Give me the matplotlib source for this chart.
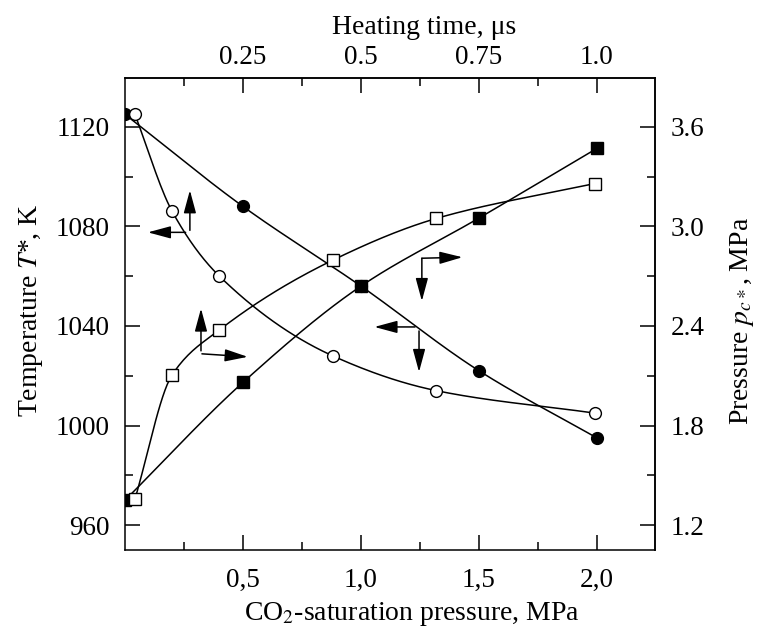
import numpy as np
import matplotlib
matplotlib.use("Agg")
import matplotlib.pyplot as plt
from matplotlib.ticker import FixedLocator

plt.rcParams["font.family"] = ["Liberation Serif", "DejaVu Serif"]
plt.rcParams["mathtext.fontset"] = "stix"

# data: T* and p_c* against CO2-saturation pressure (MPa) and heating time (us)
co2 = [0.0, 0.5, 1.0, 1.5, 2.0]
temp_co2 = [1125, 1088, 1056, 1022, 995]          # filled circles, left axis
pres_co2 = [1.35, 2.06, 2.64, 3.05, 3.47]         # filled squares, right axis

time = [0.021, 0.1, 0.2, 0.44, 0.66, 0.995]
temp_time = [1125, 1086, 1060, 1028, 1014, 1005]  # open circles, left axis
pres_time = [1.356, 2.106, 2.376, 2.796, 3.048, 3.258]  # open squares, right axis

bottom_ticks = [0.5, 1.0, 1.5, 2.0]
bottom_labels = ["0,5", "1,0", "1,5", "2,0"]
top_ticks = [0.25, 0.5, 0.75, 1.0]
top_labels = ["0.25", "0.5", "0.75", "1.0"]
left_ticks = [960, 1000, 1040, 1080, 1120]
right_ticks = [1.2, 1.8, 2.4, 3.0, 3.6]
right_labels = ["1.2", "1.8", "2.4", "3.0", "3.6"]


def t2x(t):
    return np.asarray(t, float) * 2.0


def x2t(x):
    return np.asarray(x, float) / 2.0


def p2T(p):
    return 960 + (np.asarray(p, float) - 1.2) / 0.015


def T2p(T):
    return 1.2 + (np.asarray(T, float) - 960) * 0.015


def smooth(x, y, n=200):
    # monotone cubic (Fritsch-Carlson) curve through the points
    x, y = np.asarray(x, float), np.asarray(y, float)
    h = np.diff(x)
    d = np.diff(y) / h
    m = np.zeros_like(y)
    m[0], m[-1] = d[0], d[-1]
    for k in range(1, len(x) - 1):
        if d[k - 1] * d[k] > 0:
            w1 = 2 * h[k] + h[k - 1]
            w2 = h[k] + 2 * h[k - 1]
            m[k] = (w1 + w2) / (w1 / d[k - 1] + w2 / d[k])
    xs = np.linspace(x[0], x[-1], n)
    i = np.clip(np.searchsorted(x, xs) - 1, 0, len(h) - 1)
    s = (xs - x[i]) / h[i]
    ys = ((2 * s**3 - 3 * s**2 + 1) * y[i] + (s**3 - 2 * s**2 + s) * h[i] * m[i]
          + (-2 * s**3 + 3 * s**2) * y[i + 1] + (s**3 - s**2) * h[i] * m[i + 1])
    return xs, ys


fig = plt.figure(figsize=(7.57, 6.27), dpi=100)
ax = fig.add_axes([125 / 757, 1 - 550 / 627, 530 / 757, 472 / 627])
ax.set_xlim(0, 2.246)
ax.set_ylim(950, 1139.6)

lw = 1.1
# curves
ax.plot(*smooth(co2, temp_co2), "k-", lw=lw)
ax.plot(*smooth(co2, p2T(pres_co2)), "k-", lw=lw)
ax.plot(*smooth(t2x(time), temp_time), "k-", lw=lw)
ax.plot(*smooth(t2x(time), p2T(pres_time)), "k-", lw=lw)
# markers
ax.plot(co2, temp_co2, "ko", ms=8.5, ls="none")
ax.plot(co2, p2T(pres_co2), "ks", ms=8, ls="none")
ax.plot(t2x(time), temp_time, "o", ms=8.5, mfc="white", mec="k", mew=1.0, ls="none")
ax.plot(t2x(time), p2T(pres_time), "s", ms=8, mfc="white", mec="k", mew=1.0, ls="none")

# axis-pointer arrows
ap = dict(arrowstyle="-|>,head_length=1.0,head_width=0.27", color="k", lw=1.1,
          mutation_scale=14, shrinkA=0, shrinkB=0)
arrows = [((0.275, 1078.4), (0.275, 1094.5)), ((0.257, 1077.6), (0.097, 1077.6)),
          ((0.322, 1030.0), (0.322, 1047.0)), ((0.326, 1028.8), (0.52, 1027.6)),
          ((1.258, 1067.2), (1.43, 1067.6)), ((1.258, 1067.2), (1.258, 1050.0)),
          ((1.229, 1039.6), (1.057, 1039.6)), ((1.246, 1038.0), (1.246, 1021.5))]
for start, end in arrows:
    ax.annotate("", xy=end, xytext=start, arrowprops=ap)

tick_kw = dict(direction="in", width=1.1, labelsize=19.5)
ax.xaxis.set_major_locator(FixedLocator(bottom_ticks))
ax.set_xticklabels(bottom_labels)
ax.xaxis.set_minor_locator(FixedLocator([0.25, 0.75, 1.25, 1.75]))
ax.yaxis.set_major_locator(FixedLocator(left_ticks))
ax.yaxis.set_minor_locator(FixedLocator([980, 1020, 1060, 1100]))
ax.tick_params(axis="x", which="major", length=11, pad=13, **tick_kw)
ax.tick_params(axis="y", which="major", length=11, pad=11, **tick_kw)
ax.tick_params(which="minor", direction="in", length=6, width=1.1)
for s in ax.spines.values():
    s.set_linewidth(1.1)

top = ax.secondary_xaxis("top", functions=(x2t, t2x))
top.xaxis.set_major_locator(FixedLocator(top_ticks))
top.set_xticklabels(top_labels)
top.xaxis.set_minor_locator(FixedLocator([0.125, 0.375, 0.625, 0.875]))
top.tick_params(which="major", length=11, pad=6, **tick_kw)
top.tick_params(which="minor", direction="in", length=6, width=1.1)

right = ax.secondary_yaxis("right", functions=(T2p, p2T))
right.yaxis.set_major_locator(FixedLocator(right_ticks))
right.set_yticklabels(right_labels)
right.yaxis.set_minor_locator(FixedLocator([1.5, 2.1, 2.7, 3.3]))
right.tick_params(which="major", length=11, pad=11, **tick_kw)
right.tick_params(which="minor", direction="in", length=6, width=1.1)
for sec in (top, right):
    for s in sec.spines.values():
        s.set_linewidth(1.1)

ax.set_xlabel("CO$_2$-saturation pressure, MPa", fontsize=20, labelpad=5)
ax.set_ylabel("Temperature $T$*, K", fontsize=20, labelpad=8)
top.set_xlabel("Heating time, μs", fontsize=20, labelpad=8)
right.set_ylabel("Pressure $p_{c*}$, MPa", fontsize=20, labelpad=17)
ax.xaxis.label.set_x(0.5415)
top.xaxis.label.set_x(0.564)
ax.yaxis.label.set_y(0.508)
right.yaxis.label.set_y(0.485)

fig.savefig("out.png", dpi=100)
